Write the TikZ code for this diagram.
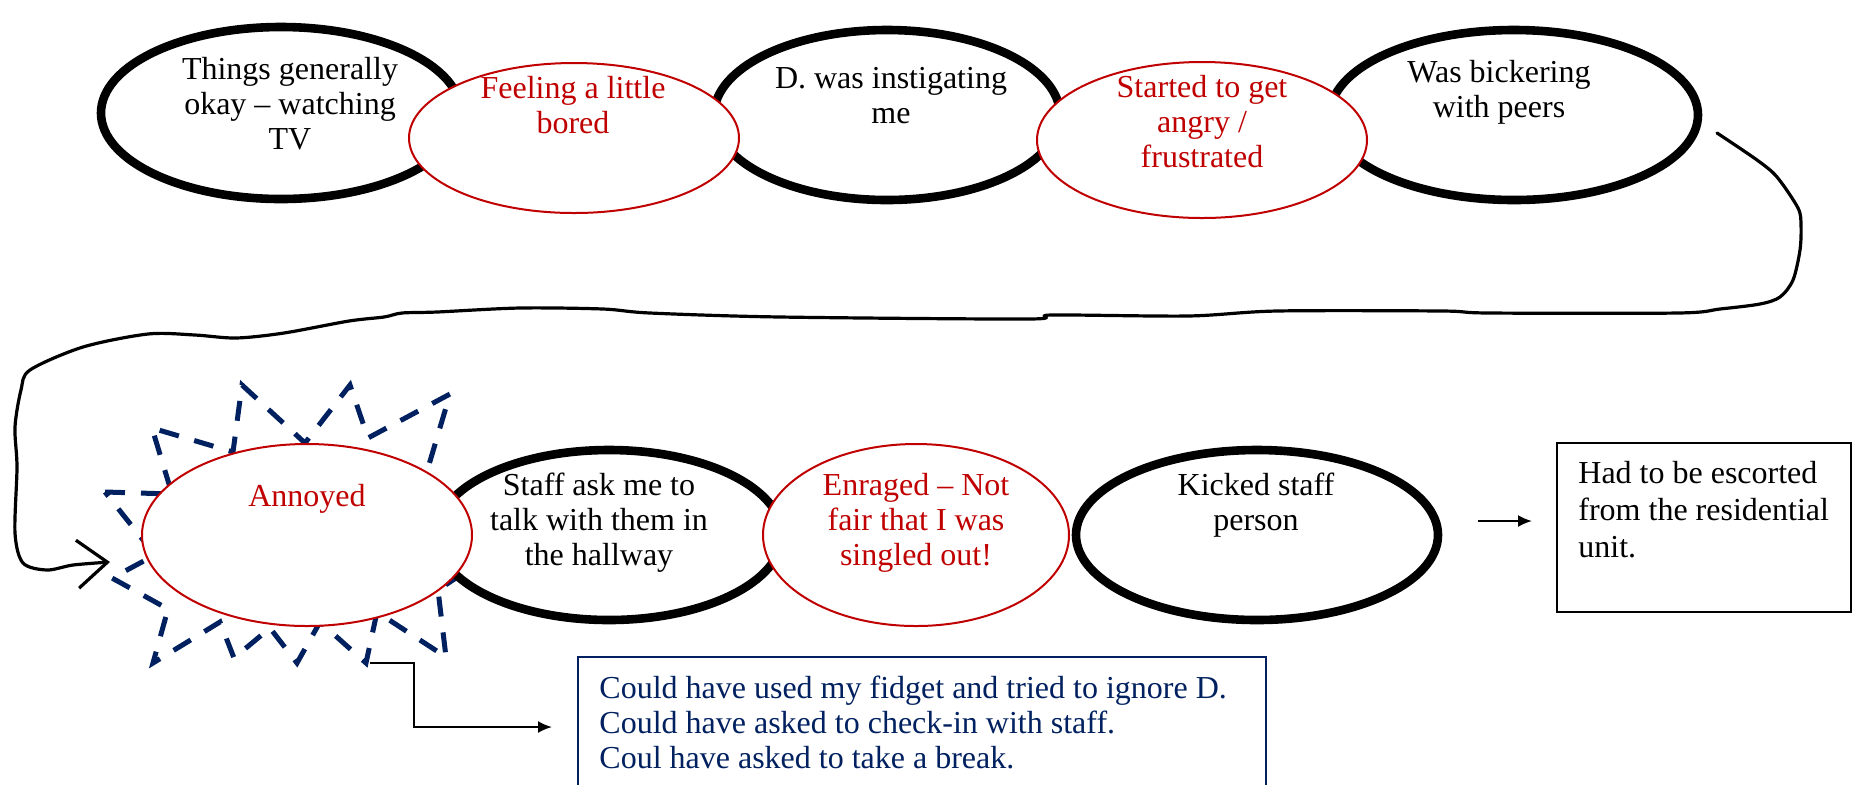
\documentclass[tikz,border=0pt]{standalone}
\usepackage{fontspec}
\setmainfont{Liberation Serif}
\usetikzlibrary{shapes.geometric,arrows.meta}
\definecolor{wred}{HTML}{C00000}
\definecolor{wnavy}{HTML}{002060}
\begin{document}
\begin{tikzpicture}[x=0.5pt,y=-0.5pt,
  blackell/.style={ellipse,draw=black,line width=4.3pt,fill=white,inner sep=0pt},
  redell/.style={ellipse,draw=wred,line width=1pt,fill=white,inner sep=0pt},
  lbl/.style={font=\fontsize{16pt}{17.5pt}\selectfont,align=center,inner sep=0pt},
  redlbl/.style={lbl,text=wred},
  starline/.style={draw=wnavy,line width=2.5pt,dash pattern=on 10pt off 8pt,line join=miter},
  conn/.style={line width=1pt,-{Latex[length=7pt,width=6pt]}}
]
\useasboundingbox (0,0) rectangle (1853,784);

% hand-drawn connector from top row to the bottom row
\coordinate (cStart) at (1717,133);
\coordinate (cEnd) at (110,562);
\draw[line width=1.6pt,line cap=round,line join=round,-{Straight Barb[length=15pt,width=24pt,line width=1.6pt]}]
  plot[smooth,tension=0.5] coordinates {(cStart) (1757,160) (1777,177) (1798,208) (1801,225) (1800,250)
  (1793,280) (1780,297) (1760,304) (1720,309) (1678,313) (1489,313) (1442,311) (1277,311)
  (1188,316) (1052,315) (1028,319) (780,317) (650,313) (603,309) (520,308) (437,312) (402,313)
  (384,317) (349,321) (284,333) (236,338) (195,335) (148,334) (83,347) (30,370) (21,390)
  (15,427) (17,467) (15,533) (23,563) (47,570) (73,565) (cEnd)};

% top row
\node[blackell,minimum width=180pt,minimum height=86pt] (e1) at (281,113) {};
\node[blackell,minimum width=173pt,minimum height=85pt] (e2) at (887,115) {};
\node[blackell,minimum width=184pt,minimum height=85pt] (e3) at (1514,115) {};
\node[redell,minimum width=165pt,minimum height=75pt] (r1) at (574,138) {};
\node[redell,minimum width=165pt,minimum height=78pt] (r2) at (1202,140) {};

% starburst round "Annoyed"
\draw[starline] (105,492) -- (172,494) -- (152,428) -- (233,452) -- (242,385) -- (305,443)
  -- (350,385) -- (368,438) -- (450,394) -- (425,478) -- (520,535) -- (438,590) -- (446,657)
  -- (377,612) -- (366,663) -- (320,622) -- (297,663) -- (270,628) -- (234,658) -- (220,622)
  -- (153,663) -- (168,609) -- (112,578) -- (155,555) -- cycle;
\coordinate (sF) at (370,663);

% bottom row
\node[blackell,minimum width=173pt,minimum height=85pt] (s1) at (609,535) {};
\node[blackell,minimum width=181pt,minimum height=85pt] (k1) at (1257,535) {};
\node[redell,minimum width=165pt,minimum height=91pt] (a1) at (307,535) {};
\node[redell,minimum width=153pt,minimum height=91pt] (r3) at (916,535) {};

% texts
\node[lbl] (te1) at (290,104) {Things generally\\okay -- watching\\TV};
\node[redlbl] (tr1) at (573,105) {Feeling a little\\bored};
\node[lbl] (te2) at (891,96) {D. was instigating\\me};
\node[redlbl] (tr2) at (1202,122) {Started to get\\angry /\\frustrated};
\node[lbl] (te3) at (1499,92) {Was bickering\\with peers};
\node[redlbl] (ta1) at (307,499) {Annoyed};
\node[lbl] (ts1) at (599,523) {Staff ask me to\\talk with them in\\the hallway};
\node[redlbl] (tr3) at (916,523) {Enraged -- Not\\fair that I was\\singled out!};
\node[lbl] (tk1) at (1256,505) {Kicked staff\\person};

% outcome box
\node[draw=black,line width=1pt,minimum width=147pt,minimum height=84.5pt,anchor=north west,inner sep=0pt] (esc) at (1556,442) {};
\node[font=\fontsize{16pt}{18.5pt}\selectfont,align=left,anchor=west,inner sep=0pt] (tesc) at (1578,510)
  {Had to be escorted\\from the residential\\unit.};
\coordinate (aS) at (1478,521);
\draw[conn,shorten >=12pt] (aS) -- (aS -| esc.west);

% alternatives box
\node[draw=wnavy,line width=1pt,minimum width=344pt,minimum height=80pt,anchor=north west,inner sep=0pt] (alt) at (577,656) {};
\node[font=\fontsize{16pt}{17.5pt}\selectfont,align=left,anchor=west,inner sep=0pt,text=wnavy] (talt) at (599,722)
  {Could have used my fidget and tried to ignore D.\\Could have asked to check-in with staff.\\Coul have asked to take a break.};
\coordinate (altIn) at (552,727);
\draw[conn] (sF) -| (414,727) -- (altIn);
\end{tikzpicture}
\end{document}
